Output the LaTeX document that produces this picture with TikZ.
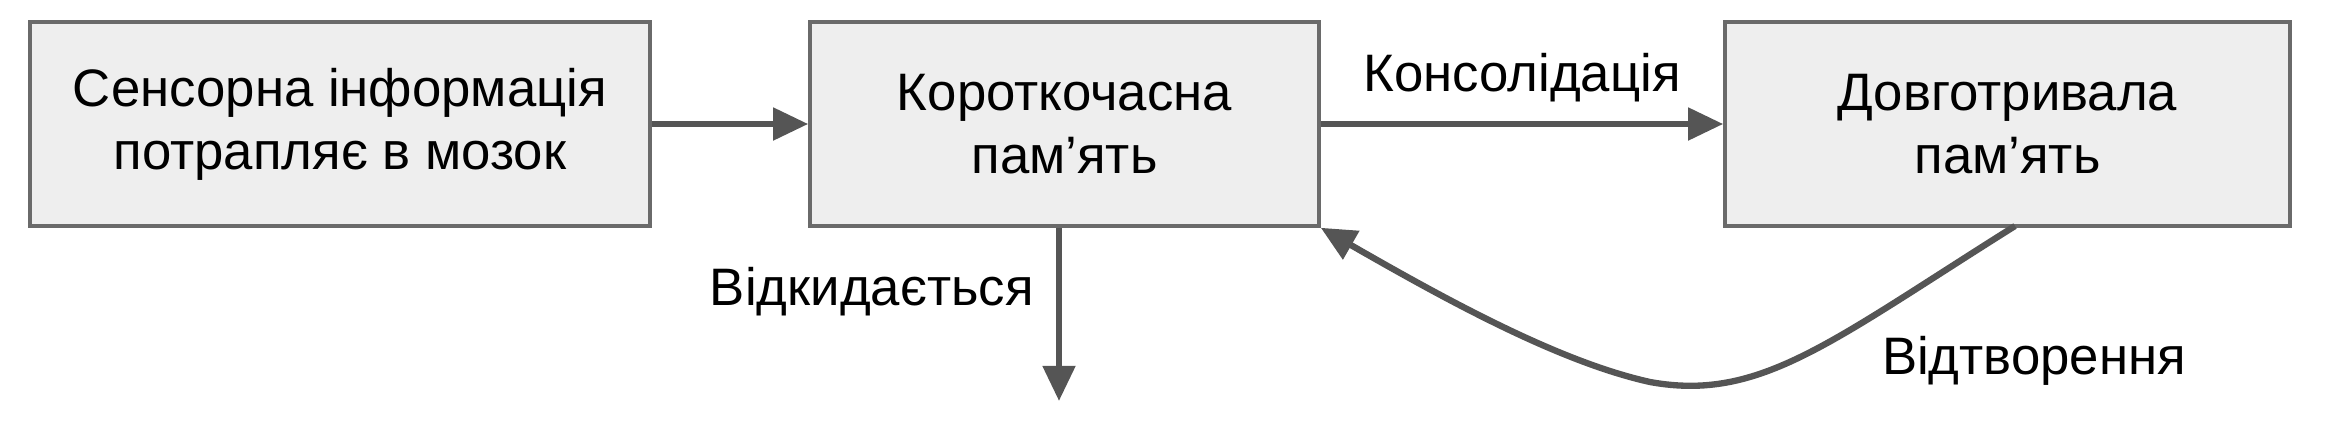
\documentclass[tikz,border=0pt]{standalone}
\usepackage{fontspec}
\setmainfont{Liberation Sans}
\usetikzlibrary{arrows.meta,positioning}
\definecolor{boxfill}{HTML}{EEEEEE}
\definecolor{boxline}{HTML}{6A6A6A}
\definecolor{arrowcol}{HTML}{555555}
\tikzset{
    stage/.style={draw=boxline, line width=1pt, fill=boxfill, minimum height=2.04cm, align=center, font=\fontsize{15}{18}\selectfont},
    flow/.style={draw=arrowcol, line width=1.8pt, -{Triangle[length=10pt,width=9pt]}},
    tag/.style={font=\fontsize{15}{18}\selectfont}
}
\begin{document}
\begin{tikzpicture}
    \useasboundingbox (0,0) rectangle (23.32,4.32);

    \node[stage, minimum width=6.2cm] (sensor) at (3.40,3.08) {Сенсорна інформація\\потрапляє в мозок};
    \node[stage, minimum width=5.09cm] (short) at (10.645,3.08) {Короткочасна\\пам’ять};
    \node[stage, minimum width=5.65cm] (long) at (20.075,3.08) {Довготривала\\пам’ять};

    \coordinate (drop) at (10.59,0.31);

    \draw[flow] (sensor) -- (short);
    \draw[flow] (short) -- node[tag, above=2pt] {Консолідація} (long);
    \draw[flow] (short.south -| drop) -- node[tag, left=3pt, pos=0.37] {Відкидається} (drop);
    \draw[flow] (20.15,2.06) .. controls (18.3,0.9) and (17.6,0.3) .. (16.5,0.5)
        .. controls (15.6,0.7) and (14.5,1.3) .. (short.south east);

    \node[tag] (recall) at (20.34,0.71) {Відтворення};
\end{tikzpicture}
\end{document}
